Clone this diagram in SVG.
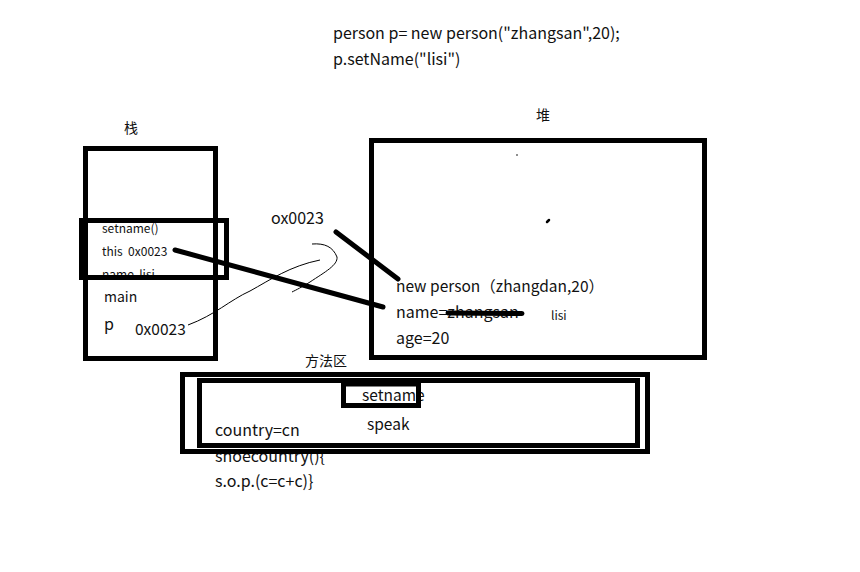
<svg xmlns="http://www.w3.org/2000/svg" width="860" height="572" viewBox="0 0 860 572">
<style>
text{font-family:"Noto Sans CJK SC","Noto Sans",sans-serif;fill:#111;white-space:pre;}
.t16{font-size:16px;}
.t15{font-size:15.5px;}
.t14{font-size:14px;}
.t12{font-size:12px;}
.box{fill:none;stroke:#000;stroke-width:5;}
.thick{stroke:#000;stroke-width:5;stroke-linecap:round;fill:none;}
.thin{stroke:#000;stroke-width:1;fill:none;}
</style>
<rect width="860" height="572" fill="#fff"/>
<g id="code">
<text class="t16" x="333" y="39">person p= new person("zhangsan",20);</text>
<text class="t16" x="333" y="65">p.setName("lisi")</text>
</g>
<g id="stack">
<text class="t14" x="124" y="133">栈</text>
<rect class="box" x="85.5" y="148.5" width="130" height="210"/>
<text class="t14" x="104" y="302">main</text>
<text class="t16" x="104" y="330">p</text>
<text class="t15" x="135" y="335">0x0023</text>
</g>
<g id="setname-frame">
<text class="t12" x="102" y="233">setname()</text>
<text class="t12" x="102" y="256" xml:space="preserve">this  0x0023</text>
<text class="t12" x="102" y="279" xml:space="preserve">name  lisi</text>
<rect class="box" x="81.5" y="220.5" width="145" height="57"/>
</g>
<g id="heap">
<text class="t14" x="536" y="120">堆</text>
<rect class="box" x="371.5" y="140.5" width="333" height="217"/>
<circle cx="517" cy="155" r="0.8" fill="#000"/>
<line x1="547" y1="222" x2="549" y2="220" stroke="#000" stroke-width="2.5" stroke-linecap="round"/>
<text class="t15" x="396" y="292">new person（zhangdan,20）</text>
<text class="t16" x="396" y="318">name=zhangsan</text>
<line x1="448" y1="313" x2="522" y2="313.5" stroke="#000" stroke-width="5" stroke-linecap="round"/>
<text class="t12" x="551" y="320">lisi</text>
<text class="t16" x="396" y="344">age=20</text>
</g>
<g id="method-area">
<text class="t14" x="305" y="366">方法区</text>
<text class="t15" x="362" y="401">setname</text>
<text class="t15" x="367" y="430">speak</text>
<text class="t16" x="215" y="436">country=cn</text>
<text class="t16" x="215" y="462">shoecountry(){</text>
<text class="t16" x="215" y="487">s.o.p.(c=c+c)}</text>
<rect class="box" x="182.5" y="374.5" width="465" height="77"/>
<rect class="box" x="199.5" y="380.5" width="438" height="65"/>
<rect class="box" x="343.5" y="384" width="75" height="21.5"/>
</g>
<g id="labels">
<text class="t16" x="271" y="224">ox0023</text>
</g>
<g id="connectors">
<line class="thick" x1="175" y1="250" x2="383" y2="307"/>
<line class="thick" x1="336" y1="232" x2="398" y2="279"/>
<path class="thin" d="M188,325 C215,315 230,300 250,291 C270,280 290,266 320,260"/>
<path class="thin" d="M312,244 C325,243 333,247 337,257 C338,265 325,272 310,282 C302,287 296,290 292,292"/>
</g>
</svg>
